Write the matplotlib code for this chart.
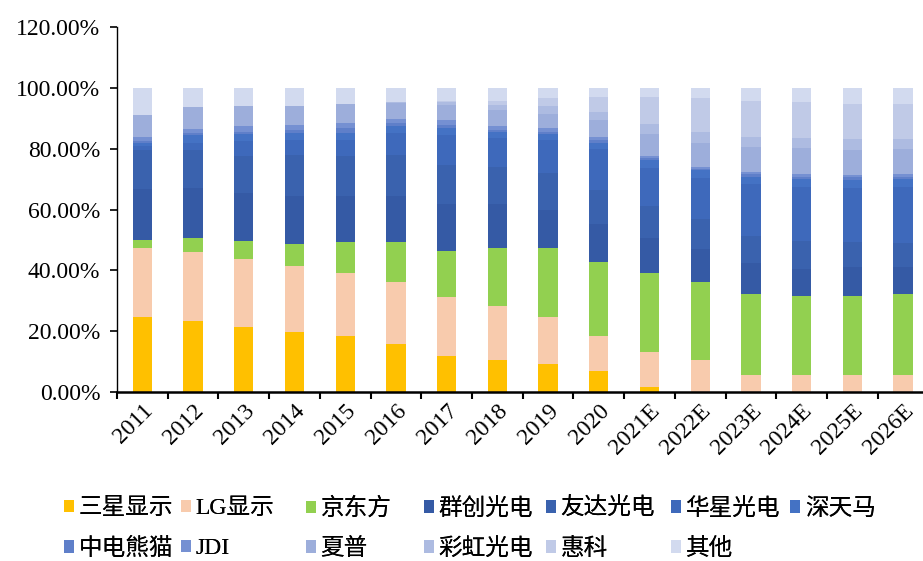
import matplotlib
matplotlib.use("Agg")
import matplotlib.pyplot as plt
from matplotlib.patches import Patch
from matplotlib.ticker import FuncFormatter
import numpy as np

years = ["2011", "2012", "2013", "2014", "2015", "2016", "2017", "2018",
         "2019", "2020", "2021E", "2022E", "2023E", "2024E", "2025E", "2026E"]

names = ["三星显示", "LG显示", "京东方", "群创光电", "友达光电", "华星光电", "深天马",
         "中电熊猫", "JDI", "夏普", "彩虹光电", "惠科", "其他"]

# market share (%) per year
samsung = [24.7, 23.5, 21.3, 19.7, 18.4, 15.8, 11.9, 10.6, 9.1, 7.0, 1.6, 0, 0, 0, 0, 0]
lg      = [22.8, 22.6, 22.6, 21.7, 20.6, 20.3, 19.5, 17.7, 15.5, 11.3, 11.7, 10.4, 5.7, 5.7, 5.7, 5.7]
boe     = [2.5, 4.7, 5.6, 7.2, 10.4, 13.3, 15.0, 19.0, 22.9, 24.3, 25.7, 25.7, 26.5, 26.0, 26.0, 26.5]
innolux = [16.6, 16.4, 15.9, 15.9, 15.1, 15.0, 15.5, 14.4, 12.5, 12.8, 11.6, 10.9, 10.1, 8.7, 9.3, 8.8]
auo     = [12.9, 12.3, 12.1, 13.5, 13.1, 13.6, 12.8, 12.3, 11.9, 11.0, 10.4, 9.8, 9.1, 9.3, 8.4, 8.0]
csot    = [1.5, 2.5, 5.0, 5.0, 5.4, 7.3, 9.8, 9.5, 11.1, 13.6, 12.8, 13.5, 16.9, 17.8, 17.8, 18.3]
tianma  = [1.0, 2.5, 2.4, 2.1, 2.2, 2.0, 2.2, 1.9, 1.9, 2.0, 2.5, 2.6, 2.5, 2.5, 2.5, 2.7]
panda   = [0.6, 0.8, 0.7, 1.1, 1.5, 1.1, 1.1, 0.8, 0.7, 1.0, 0.5, 0.4, 0.9, 0.6, 0.9, 0.8]
jdi     = [1.2, 1.1, 1.7, 1.6, 1.9, 1.3, 1.7, 1.1, 1.1, 0.8, 0.8, 0.6, 0.8, 1.1, 0.8, 0.9]
sharp   = [7.3, 7.2, 6.8, 6.3, 6.0, 5.3, 4.9, 5.5, 4.6, 5.5, 7.3, 7.9, 8.2, 8.5, 8.2, 8.1]
irico   = [0, 0, 0, 0, 0, 0.5, 0.8, 1.6, 2.8, 2.9, 3.3, 3.8, 3.1, 3.2, 3.5, 3.3]
hkc     = [0, 0, 0, 0, 0, 0, 0.6, 1.4, 2.5, 4.9, 8.9, 11.0, 12.0, 11.9, 11.6, 11.6]
others  = [8.9, 6.4, 5.9, 5.9, 5.4, 4.5, 4.2, 4.2, 3.4, 2.9, 2.9, 3.4, 4.2, 4.7, 5.3, 5.3]

series = [samsung, lg, boe, innolux, auo, csot, tianma, panda, jdi, sharp, irico, hkc, others]
colors = ["#FFC000", "#F8CBAD", "#92D050", "#355AA5", "#3A62AE", "#3E69BB", "#4472C4",
          "#5F7FC9", "#7590D2", "#9DAEDB", "#ADBBE1", "#C0CAE7", "#D2DAEF"]

serif_cjk = ["Liberation Serif", "Noto Sans CJK SC"]

fig = plt.figure(figsize=(9.23, 5.61), dpi=100)
ax = fig.add_axes([0.1268, 0.3012, 0.879, 0.6506])

x = np.arange(len(years))
bottom = np.zeros(len(years))
for vals, c in zip(series, colors):
    vals = np.array(vals) / 100
    ax.bar(x, vals, 0.38, bottom=bottom, color=c, edgecolor=c, linewidth=0)
    bottom += vals

ax.set_xlim(-0.5, len(years) - 0.5)
ax.set_ylim(0, 1.2)
ax.set_yticks(np.arange(0, 1.21, 0.2))
ax.yaxis.set_major_formatter(FuncFormatter(lambda v, p: f"{v * 100:.2f}%"))
for lab in ax.get_yticklabels():
    lab.set_fontfamily("Liberation Serif")
    lab.set_fontsize(17)

ax.set_xticks(x)
ax.set_xticklabels(years, rotation=45, ha="right", va="top", rotation_mode="anchor",
                   fontfamily="Liberation Serif", fontsize=17)
ax.set_xticks(np.arange(-0.5, len(years), 1), minor=True)
ax.tick_params(axis="x", which="major", length=0, pad=6)
ax.tick_params(axis="x", which="minor", length=5, width=1.5, direction="out")
ax.tick_params(axis="y", length=5, width=1.2, direction="out", pad=7)

for s in ["top", "right"]:
    ax.spines[s].set_visible(False)
ax.spines["left"].set_linewidth(1.0)
ax.spines["bottom"].set_linewidth(1.8)

# legend: 7 columns, 2 rows, fixed column positions
col_x = [0.0693, 0.196, 0.3315, 0.459, 0.5915, 0.727, 0.856]
row_y = [0.0927, 0.0214]
for i, (n, c) in enumerate(zip(names, colors)):
    h = Patch(facecolor=c, edgecolor="none")
    leg = fig.legend(handles=[h], labels=[n], loc="center left",
                     bbox_to_anchor=(col_x[i % 7], row_y[i // 7]),
                     frameon=False, handlelength=0.42, handleheight=0.42,
                     handletextpad=0.2, borderaxespad=0, borderpad=0,
                     prop={"family": serif_cjk, "size": 17})
    fig.add_artist(leg)

fig.savefig("out.png", dpi=100)
